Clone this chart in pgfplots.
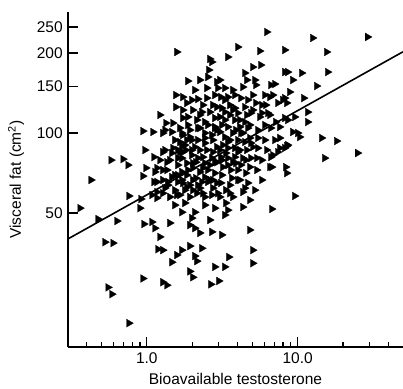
\documentclass[border=0pt]{standalone}
\usepackage{fontspec}
\setmainfont{Liberation Sans}
\usepackage{pgfplots}
\usepackage{pgfplotstable}
\pgfplotsset{compat=1.18}
\pgfplotstableread{
x y
0.360 52.2
0.426 66.6
0.474 47.5
0.633 46.7
0.527 38.9
0.596 38.6
0.578 79.1
0.694 79.8
0.749 75.8
0.760 58.0
0.941 101.7
1.096 100.9
1.276 100.0
0.970 86.3
1.113 81.2
1.276 84.8
0.985 73.9
1.130 71.4
1.357 72.6
0.941 68.9
1.113 65.5
0.913 56.5
0.899 52.2
0.955 45.5
1.079 46.3
1.130 43.9
0.941 28.4
0.552 26.3
0.586 24.8
0.760 19.3
1.219 40.7
1.183 36.6
1.276 36.3
1.276 27.5
1.357 26.8
1.464 32.7
1.580 34.8
1.705 36.3
1.927 37.6
1.927 30.2
2.016 28.7
2.079 34.5
2.144 33.0
1.420 45.9
1.986 47.9
2.079 43.9
2.244 42.1
2.695 42.5
3.139 41.4
3.286 49.2
4.323 52.7
6.728 51.8
4.810 43.2
5.035 36.3
5.035 32.4
3.493 34.2
3.286 31.4
2.821 31.4
2.999 27.8
2.654 27.0
2.313 36.9
1.079 58.5
1.165 57.0
1.276 59.4
1.165 65.5
1.276 66.6
1.378 63.7
1.532 69.5
1.705 66.6
1.840 62.6
2.016 77.1
2.016 61.0
1.165 60.0
1.580 201.6
1.868 156.8
2.177 134.2
1.556 138.9
1.731 136.5
1.556 125.2
1.219 116.9
1.336 109.0
1.487 109.0
1.731 113.9
1.705 100.0
1.840 94.1
1.487 87.8
1.654 84.8
1.705 89.3
2.614 189.8
3.440 193.1
4.005 210.5
5.602 203.3
8.203 205.1
6.234 239.7
12.57 227.6
29.09 229.6
15.56 201.6
8.587 169.5
10.63 168.1
15.80 169.5
9.267 158.2
13.36 150.2
8.851 142.6
10.96 135.3
8.458 129.7
11.65 119.9
9.553 114.9
8.587 111.9
11.65 110.0
10.0 100.0
10.31 96.6
8.587 90.1
14.42 95.8
18.13 93.3
24.97 84.1
15.10 80.5
8.458 70.7
9.553 58.0
2.695 184.9
2.574 172.5
2.535 162.4
2.909 155.5
2.953 147.6
2.497 135.3
2.736 127.4
1.840 129.7
1.731 122.0
1.868 114.9
2.016 122.0
2.313 119.9
2.144 111.9
2.422 110.0
2.244 104.4
2.695 98.3
2.821 104.4
5.689 180.1
5.035 177.0
8.203 169.5
4.457 168.1
5.191 158.2
5.271 151.5
6.627 151.5
4.323 148.9
3.045 158.2
3.286 147.6
3.713 145.1
3.092 136.5
3.440 136.5
5.035 138.9
6.047 138.9
6.832 138.9
4.193 135.3
3.547 127.4
5.271 129.7
3.828 124.1
4.457 125.2
6.140 127.4
7.373 129.7
8.203 135.3
4.884 118.9
5.602 114.9
6.329 118.9
7.151 110.0
8.203 113.9
4.457 110.0
4.810 107.2
3.440 105.4
3.828 111.9
6.047 107.2
6.627 104.4
7.601 105.4
3.045 114.9
7.043 152.8
4.596 158.2
7.955 133.1
6.526 136.5
3.286 133.1
2.909 125.2
3.713 122.0
5.035 122.0
5.776 118.9
9.267 100.9
8.458 89.3
7.601 87.8
6.832 82.6
6.728 74.5
4.130 66.6
5.191 61.0
3.547 59.4
4.323 60.0
5.035 88.6
5.351 80.5
4.323 100.0
3.286 111.9
2.821 105.4
3.045 100.9
1.316 102.6
1.464 100.9
1.731 98.3
1.654 92.5
1.927 96.6
2.177 104.4
2.422 100.0
2.909 102.6
2.177 94.1
2.422 91.7
2.736 94.1
2.909 88.6
1.316 86.3
1.464 84.1
1.731 84.8
1.165 73.9
1.276 72.6
1.357 77.7
1.705 80.5
1.840 77.1
1.986 82.6
2.177 80.5
2.349 81.2
2.695 80.5
2.909 77.7
1.705 71.4
1.840 69.5
2.016 73.9
2.244 71.4
2.535 72.6
2.821 70.7
1.378 65.5
1.604 65.5
1.731 64.9
2.016 66.6
2.313 65.5
2.535 65.5
2.909 64.9
1.420 57.5
1.580 58.5
1.785 61.0
1.927 57.5
2.144 59.4
2.349 59.4
2.695 58.5
2.953 59.4
3.713 100.0
4.193 100.0
4.810 95.8
4.457 92.5
4.884 91.7
3.187 90.1
3.440 87.8
3.828 87.8
4.130 86.3
3.092 81.2
3.440 80.5
3.828 81.2
4.323 80.5
4.884 80.5
5.434 87.8
6.627 81.2
7.373 84.8
8.203 87.8
6.526 74.5
8.328 74.5
3.187 74.5
3.601 72.6
4.193 75.8
4.810 74.5
4.005 66.6
3.713 57.5
3.092 64.9
3.045 57.5
4.525 70.7
1.532 53.6
1.785 54.6
2.422 53.6
2.821 52.2
3.440 51.3
2.079 50.4
1.705 50.4
1.927 45.1
2.614 47.1
1.868 107.2
2.079 88.6
2.497 86.3
3.286 96.6
4.005 94.1
2.614 75.8
3.139 69.5
3.547 63.7
2.244 62.1
1.927 63.7
1.604 75.8
1.532 94.1
1.785 90.1
3.440 75.8
3.887 77.1
2.736 62.1
3.337 61.0
2.111 67.7
2.422 68.3
1.604 69.5
1.420 79.1
1.219 79.1
1.532 61.0
4.596 86.3
5.351 72.6
5.776 66.6
4.666 64.9
4.130 111.9
4.596 116.9
4.005 118.9
3.547 116.9
3.139 124.1
2.614 119.9
2.349 127.4
2.079 145.1
2.497 147.6
2.244 158.2
2.821 138.9
3.440 92.5
3.045 86.3
1.986 86.3
2.422 77.1
4.130 105.4
5.434 102.6
6.047 94.1
6.234 86.3
5.776 79.1
7.043 94.1
7.601 95.8
2.614 66.6
3.657 67.7
1.654 104.4
1.927 102.6
2.535 107.2
3.139 107.2
3.887 102.6
4.666 104.4
1.812 86.3
2.244 86.3
2.736 84.8
3.337 84.1
4.005 84.8
2.111 77.7
3.139 79.1
4.525 79.1
1.604 80.5
1.868 72.6
2.349 73.9
3.713 77.7
2.821 77.7
4.005 72.6
1.464 68.3
2.177 63.7
2.736 66.6
4.457 62.1
1.316 62.1
1.654 58.5
2.422 57.5
3.337 54.6
4.810 56.0
2.244 116.9
3.286 119.9
2.821 113.9
1.986 133.1
3.828 138.9
4.666 133.1
5.776 127.4
6.526 116.9
5.434 95.8
3.547 94.1
2.422 95.8
1.986 94.1
1.604 86.3
}\pts
\begin{document}
\fontsize{15.5}{18}\selectfont
\begin{tikzpicture}
\begin{axis}[
  scale only axis, width=335pt, height=335pt,
  xmode=log, ymode=log,
  xmin=0.3, xmax=50, ymin=15.7, ymax=285,
  axis x line=bottom, axis y line=left,
  axis line style={-, line width=1.5pt, black},
  xtick={1,10}, xticklabels={1.0,10.0},
  minor xtick={0.4,0.5,0.6,0.7,0.8,0.9,2,3,4,5,6,7,8,9,20,30,40},
  ytick={50,100,150,200,250}, yticklabels={50,100,150,200,250},
  minor ytick={},
  tick align=inside,
  major tick length=10pt, minor tick length=5pt,
  tick style={black, line width=1.3pt},
  xlabel={Bioavailable testosterone},
  ylabel={Visceral fat (cm\textsuperscript{2})},
  xlabel style={at={(axis description cs:0.5,-0.095)}, anchor=center, inner sep=1pt},
  ylabel style={at={(axis description cs:-0.155,0.5)}, anchor=center, inner sep=1pt},
  clip=false,
]
\addplot[only marks, mark=triangle*, mark size=4.6pt,
  mark options={rotate=-90, fill=black, draw=black, line width=0.2pt}] table[x=x, y=y] {\pts};
\addplot[black, line width=1.6pt] coordinates {(0.3,40) (50,202)};
\end{axis}
\pgfresetboundingbox
\path[use as bounding box] ([shift={(-68pt,-42pt)}]current axis.south west) rectangle ([shift={(0pt,12pt)}]current axis.north east);
\end{tikzpicture}
\end{document}
